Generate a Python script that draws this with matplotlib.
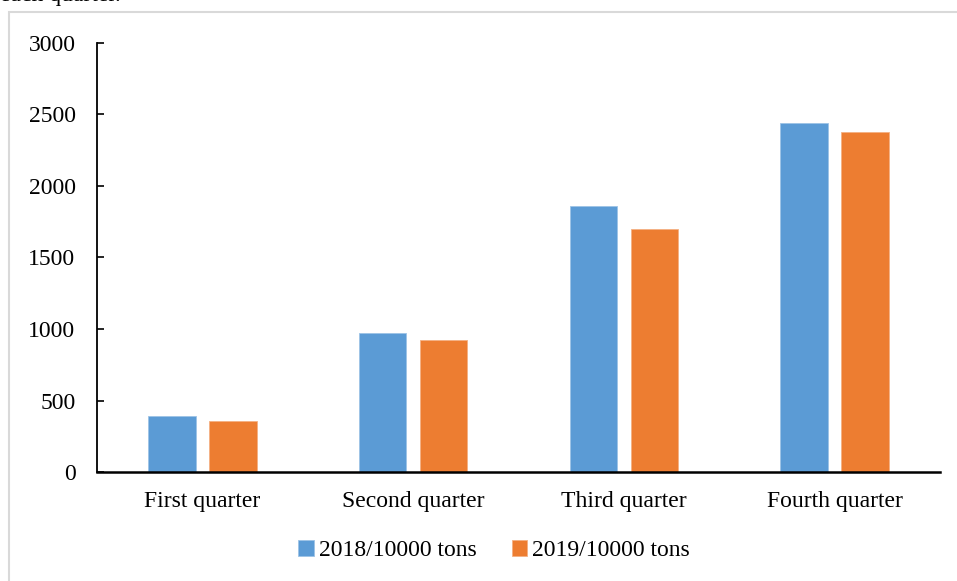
import numpy as np
import matplotlib.pyplot as plt
from matplotlib.patches import Rectangle

quarters = ['First quarter', 'Second quarter', 'Third quarter', 'Fourth quarter']
tons_2018 = [390, 970, 1860, 2440]
tons_2019 = [360, 920, 1700, 2380]
series_names = ['2018/10000 tons', '2019/10000 tons']

plt.rcParams['font.family'] = ['Liberation Serif', 'DejaVu Serif']

fig = plt.figure(figsize=(9.57, 5.81), dpi=100)
ax = fig.add_axes([0.1014, 0.1876, 0.8808, 0.7384])

x = np.arange(len(quarters))
w = 0.225
ax.bar(x - 0.145, tons_2018, w, color='#5B9BD5', edgecolor='#9dc3e6', linewidth=0.6, label=series_names[0])
ax.bar(x + 0.145, tons_2019, w, color='#ED7D31', edgecolor='#f4b183', linewidth=0.6, label=series_names[1])

ax.set_xlim(-0.5, 3.5)
ax.set_ylim(0, 3000)
ax.set_yticks(np.arange(0, 3001, 500))
ax.set_xticks(x)
ax.set_xticklabels(quarters)
ax.tick_params(axis='y', direction='in', length=5, width=1.2, pad=15.5, labelsize=17)
ax.tick_params(axis='x', length=0, pad=14, labelsize=17)
for s in ['top', 'right']:
    ax.spines[s].set_visible(False)
ax.spines['left'].set_linewidth(1.3)
ax.spines['bottom'].set_linewidth(1.8)

fig.legend(loc='center', bbox_to_anchor=(494 / 957, 0.052), ncol=2, frameon=False,
           fontsize=17, handlelength=0.65, handleheight=0.65, handletextpad=0.2,
           columnspacing=1.5)

# chart frame and the caption line above it
fig.add_artist(Rectangle((9 / 957, -0.05), 1.2, 1 - 12 / 581 + 0.05,
                         transform=fig.transFigure, fill=False,
                         edgecolor='#d9d9d9', linewidth=1.5))
fig.text(0.0, 1.0 - 1.5 / 581, 'each quarter.', fontsize=17, va='baseline', ha='left')

fig.savefig('out.png', dpi=100)
